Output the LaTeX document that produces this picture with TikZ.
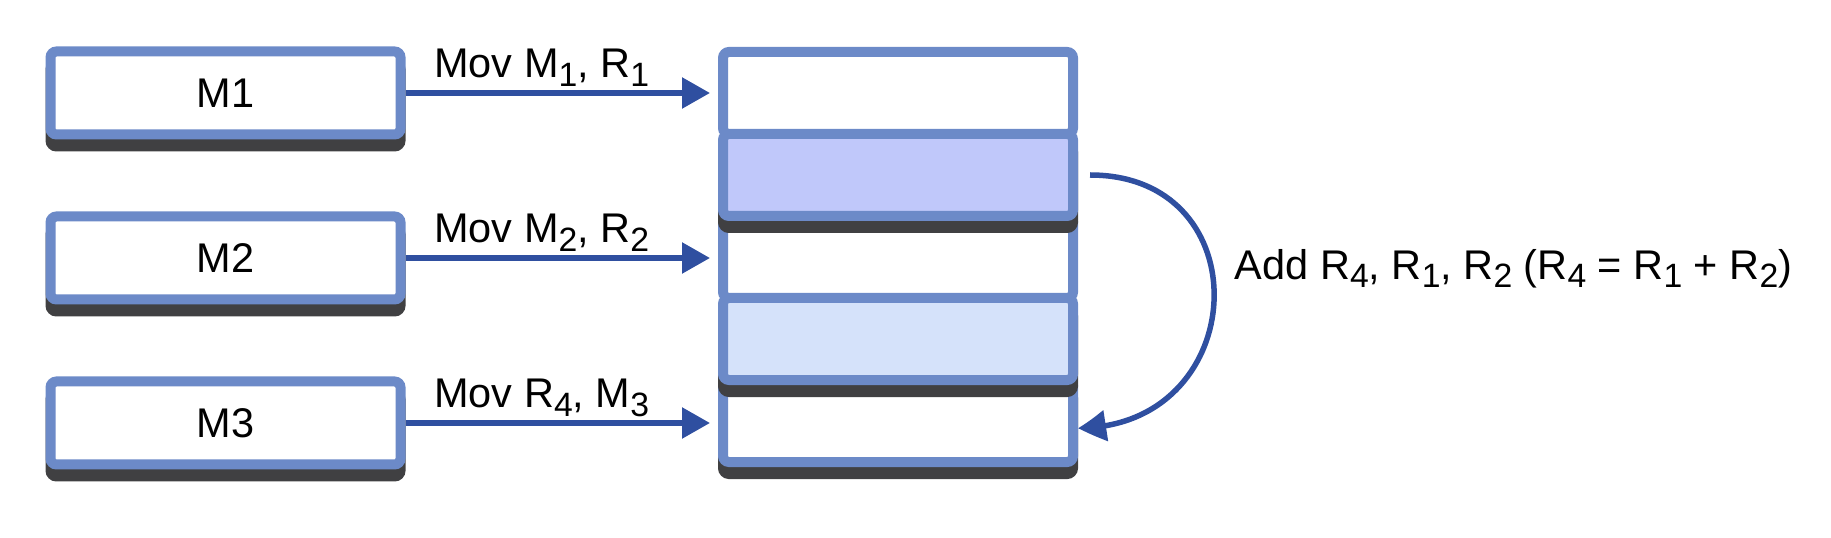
\documentclass[tikz,border=0pt]{standalone}
\usepackage{fontspec}
\setmainfont{Liberation Sans}
\usetikzlibrary{arrows.meta, bending}

\definecolor{regblue}{RGB}{108,138,200}
\definecolor{shadowgray}{RGB}{64,64,66}
\definecolor{arrowblue}{RGB}{47,79,160}
\definecolor{fillone}{RGB}{192,200,250}
\definecolor{filltwo}{RGB}{213,226,250}

\newcommand{\rsub}[1]{\raisebox{-0.2em}{\fontsize{9.6}{10}\selectfont #1}}

\tikzset{
  regbox/.style={draw=regblue, line width=0.1cm, rounded corners=0.06cm,
    minimum width=3.5cm, minimum height=0.82cm, inner sep=0pt, fill=white},
  regshadow/.style={regbox, preaction={fill=shadowgray, draw=shadowgray,
    line width=0.1cm, transform canvas={yshift=-0.12cm}}},
  regflat/.style={regbox},
  membox/.style={regshadow, minimum height=0.83cm},
  conn/.style={draw=arrowblue, line width=0.055cm,
    -{Triangle[length=0.28cm,width=0.3cm,bend]}},
  lbl/.style={inner sep=0pt}
}

\begin{document}
\begin{tikzpicture}[font=\fontsize{11.8}{14}\selectfont]
  \useasboundingbox (0,0) rectangle (18.31,5.37);

  \def\mx{2.255};
  \def\rx{8.98};
  \def\top{4.44};
  \def\h{0.82};
  \def\gap{1.65};

  %draw memory
  \foreach \i in {1,2,3}{
    \node[membox] (m\i) at (\mx, \top - \i*\gap + \gap) {M\i};
  }

  %draw registers, bottom first
  \foreach \i/\col/\sty in {5/white/regshadow, 4/filltwo/regshadow, 3/white/regflat, 2/fillone/regshadow, 1/white/regflat}{
    \node[\sty, fill=\col] (r\i) at (\rx, \top - \i*\h + \h) {};
  }

  %moves
  \foreach \i/\j in {1/1, 2/3, 3/5}{
    \draw[conn, shorten >=0.08cm] (m\i.east) -- (m\i.east -| r\j.west);
  }
  \node[lbl, anchor=base west] (l1) at ([xshift=0.28cm, yshift=0.15cm]m1.east) {Mov M\rsub{1}, R\rsub{1}};
  \node[lbl, anchor=base west] (l2) at ([xshift=0.28cm, yshift=0.15cm]m2.east) {Mov M\rsub{2}, R\rsub{2}};
  \node[lbl, anchor=base west] (l3) at ([xshift=0.28cm, yshift=0.15cm]m3.east) {Mov R\rsub{4}, M\rsub{3}};

  %add
  \draw[conn] ([xshift=0.12cm]r2.east) to[out=0, in=0, looseness=1.75]
    node[lbl, pos=0.5, anchor=base west, xshift=0.18cm, yshift=0.22cm] (add)
    {Add R\rsub{4}, R\rsub{1}, R\rsub{2} (R\rsub{4} = R\rsub{1} + R\rsub{2})}
    ([yshift=-0.07cm]r5.east);

\end{tikzpicture}
\end{document}
